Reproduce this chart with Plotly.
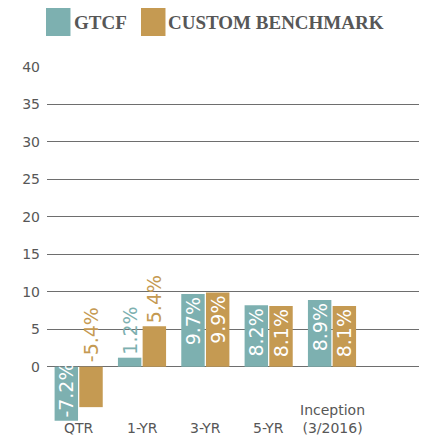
import plotly.graph_objects as go

categories = ["QTR", "1-YR", "3-YR", "5-YR", "Inception<br>(3/2016)"]
gtcf = [-7.2, 1.2, 9.7, 8.2, 8.9]
benchmark = [-5.4, 5.4, 9.9, 8.1, 8.1]
series_names = ["GTCF", "CUSTOM BENCHMARK"]
y_ticks = [0, 5, 10, 15, 20, 25, 30, 35, 40]

TEAL = "#7db0b0"
GOLD = "#c59a52"
GRAY = "#575757"
GRID = "#6e6e6e"
SANS = "DejaVu Sans"
SERIF = "Liberation Serif"

x_idx = list(range(len(categories)))
BAR_W = 0.37
offsets = [-0.38, 0.01]
FIT = 6.0  # bars shorter than this get their label outside

fig = go.Figure()
annotations = []
for vals, name, color, off in zip([gtcf, benchmark], series_names, [TEAL, GOLD], offsets):
    pos = []
    for i, v in enumerate(vals):
        if abs(v) >= FIT:
            pos.append("inside")
        elif v >= 0:
            pos.append("outside")
        else:
            pos.append("none")
            annotations.append(dict(
                x=i + off + BAR_W / 2, y=0, xref="x", yref="y",
                text=f"{v}%", textangle=-90, showarrow=False,
                yanchor="bottom", xanchor="center", yshift=3,
                font=dict(family=SANS, size=19, color=color), borderpad=0))
    fig.add_trace(go.Bar(
        x=x_idx, y=vals, name=name, width=BAR_W, offset=off,
        marker=dict(color=color, line=dict(width=0)),
        text=[f"{v}%" for v in vals], textposition=pos, textangle=-90,
        insidetextanchor="end",
        insidetextfont=dict(family=SANS, size=19, color="white"),
        outsidetextfont=dict(family=SANS, size=19, color=color),
        cliponaxis=False, showlegend=False,
    ))

# category labels bottom-aligned below the plot
for i, c in enumerate(categories):
    annotations.append(dict(
        x=i, y=0, xref="x", yref="paper", text=c, showarrow=False,
        yanchor="bottom", xanchor="center", yshift=-17,
        font=dict(family=SANS, size=14, color=GRAY)))

# custom legend
shapes = []
leg = [(-0.0027, 0.0618, 0.0645), (0.2473, 0.3118, 0.314)]
for (x0, x1, xt), name, color in zip(leg, series_names, [TEAL, GOLD]):
    shapes.append(dict(type="rect", xref="paper", yref="paper",
                       x0=x0, x1=x1, y0=1.0876, y1=1.1695,
                       fillcolor=color, line=dict(width=0)))
    annotations.append(dict(
        x=xt, y=1.127, xref="paper", yref="paper", text=f"<b>{name}</b>",
        showarrow=False, xanchor="left", yanchor="middle",
        font=dict(family=SERIF, size=19, color=GRAY)))

fig.update_layout(
    width=419, height=431,
    margin=dict(l=39, r=0, t=59, b=18),
    paper_bgcolor="white", plot_bgcolor="white",
    uniformtext=dict(mode="show", minsize=19),
    xaxis=dict(range=[-0.5, 5.5], showticklabels=False, showgrid=False,
               zeroline=False, showline=False, ticks=""),
    yaxis=dict(range=[-7.25, 40], tickvals=y_ticks, showgrid=True,
               gridcolor=GRID, gridwidth=1.3, zeroline=True,
               zerolinecolor=GRID, zerolinewidth=1.3,
               tickfont=dict(family=SANS, size=14, color=GRAY),
               ticks="", ticklabelstandoff=6),
    annotations=annotations, shapes=shapes,
    bargap=0.24, bargroupgap=0.05,
)

fig.write_html("out.html")
